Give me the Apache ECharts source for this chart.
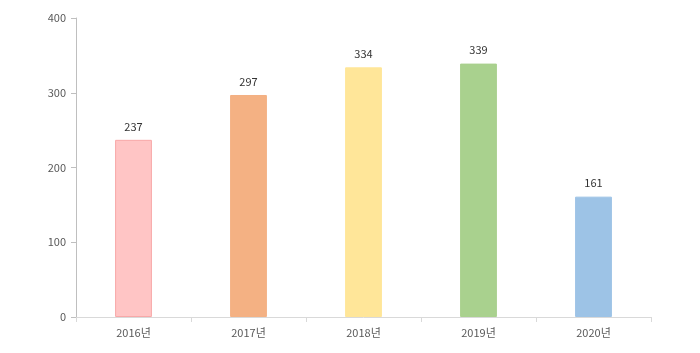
<!DOCTYPE html>
<html><head><meta charset="utf-8">
<script src="https://cdn.jsdelivr.net/npm/echarts@6/dist/echarts.min.js"></script>
<style>html,body{margin:0;padding:0;background:#fff}#c{width:700px;height:353px}</style>
</head><body><div id="c"></div>
<script>
const categories = ['2016년','2017년','2018년','2019년','2020년'];
const values = [237, 297, 334, 339, 161];
const colors = ['#FFC5C5','#F4B183','#FFE699','#A9D18E','#9DC3E6'];
const borders = ['#F8A8A8','#F4B183','#FFE699','#A9D18E','#9DC3E6'];
const yTicks = [0,100,200,300,400];
const chart = echarts.init(document.getElementById('c'));
chart.setOption({
  animation:false,
  grid:{left:76,right:49,top:18,bottom:36},
  xAxis:{type:'category',data:categories,
    axisLine:{lineStyle:{color:'#d9d9d9'}},
    axisTick:{show:true,lineStyle:{color:'#d9d9d9'},length:5},
    axisLabel:{color:'#595959',fontSize:11,fontFamily:'Noto Sans CJK KR',margin:10}},
  yAxis:{type:'value',min:yTicks[0],max:yTicks[yTicks.length-1],interval:100,
    axisLine:{show:true,lineStyle:{color:'#bfbfbf'}},
    axisTick:{show:true,lineStyle:{color:'#bfbfbf'},length:5},
    splitLine:{show:false},
    axisLabel:{color:'#595959',fontSize:11,fontFamily:'Noto Sans CJK KR',margin:10}},
  series:[{type:'bar',barWidth:'32%',
    data:values.map((v,i)=>({value:v,itemStyle:{color:colors[i],borderColor:borders[i],borderWidth:1}})),
    label:{show:true,position:'top',color:'#333333',fontSize:11,fontFamily:'Noto Sans CJK KR',distance:8}}]
});
</script></body></html>
